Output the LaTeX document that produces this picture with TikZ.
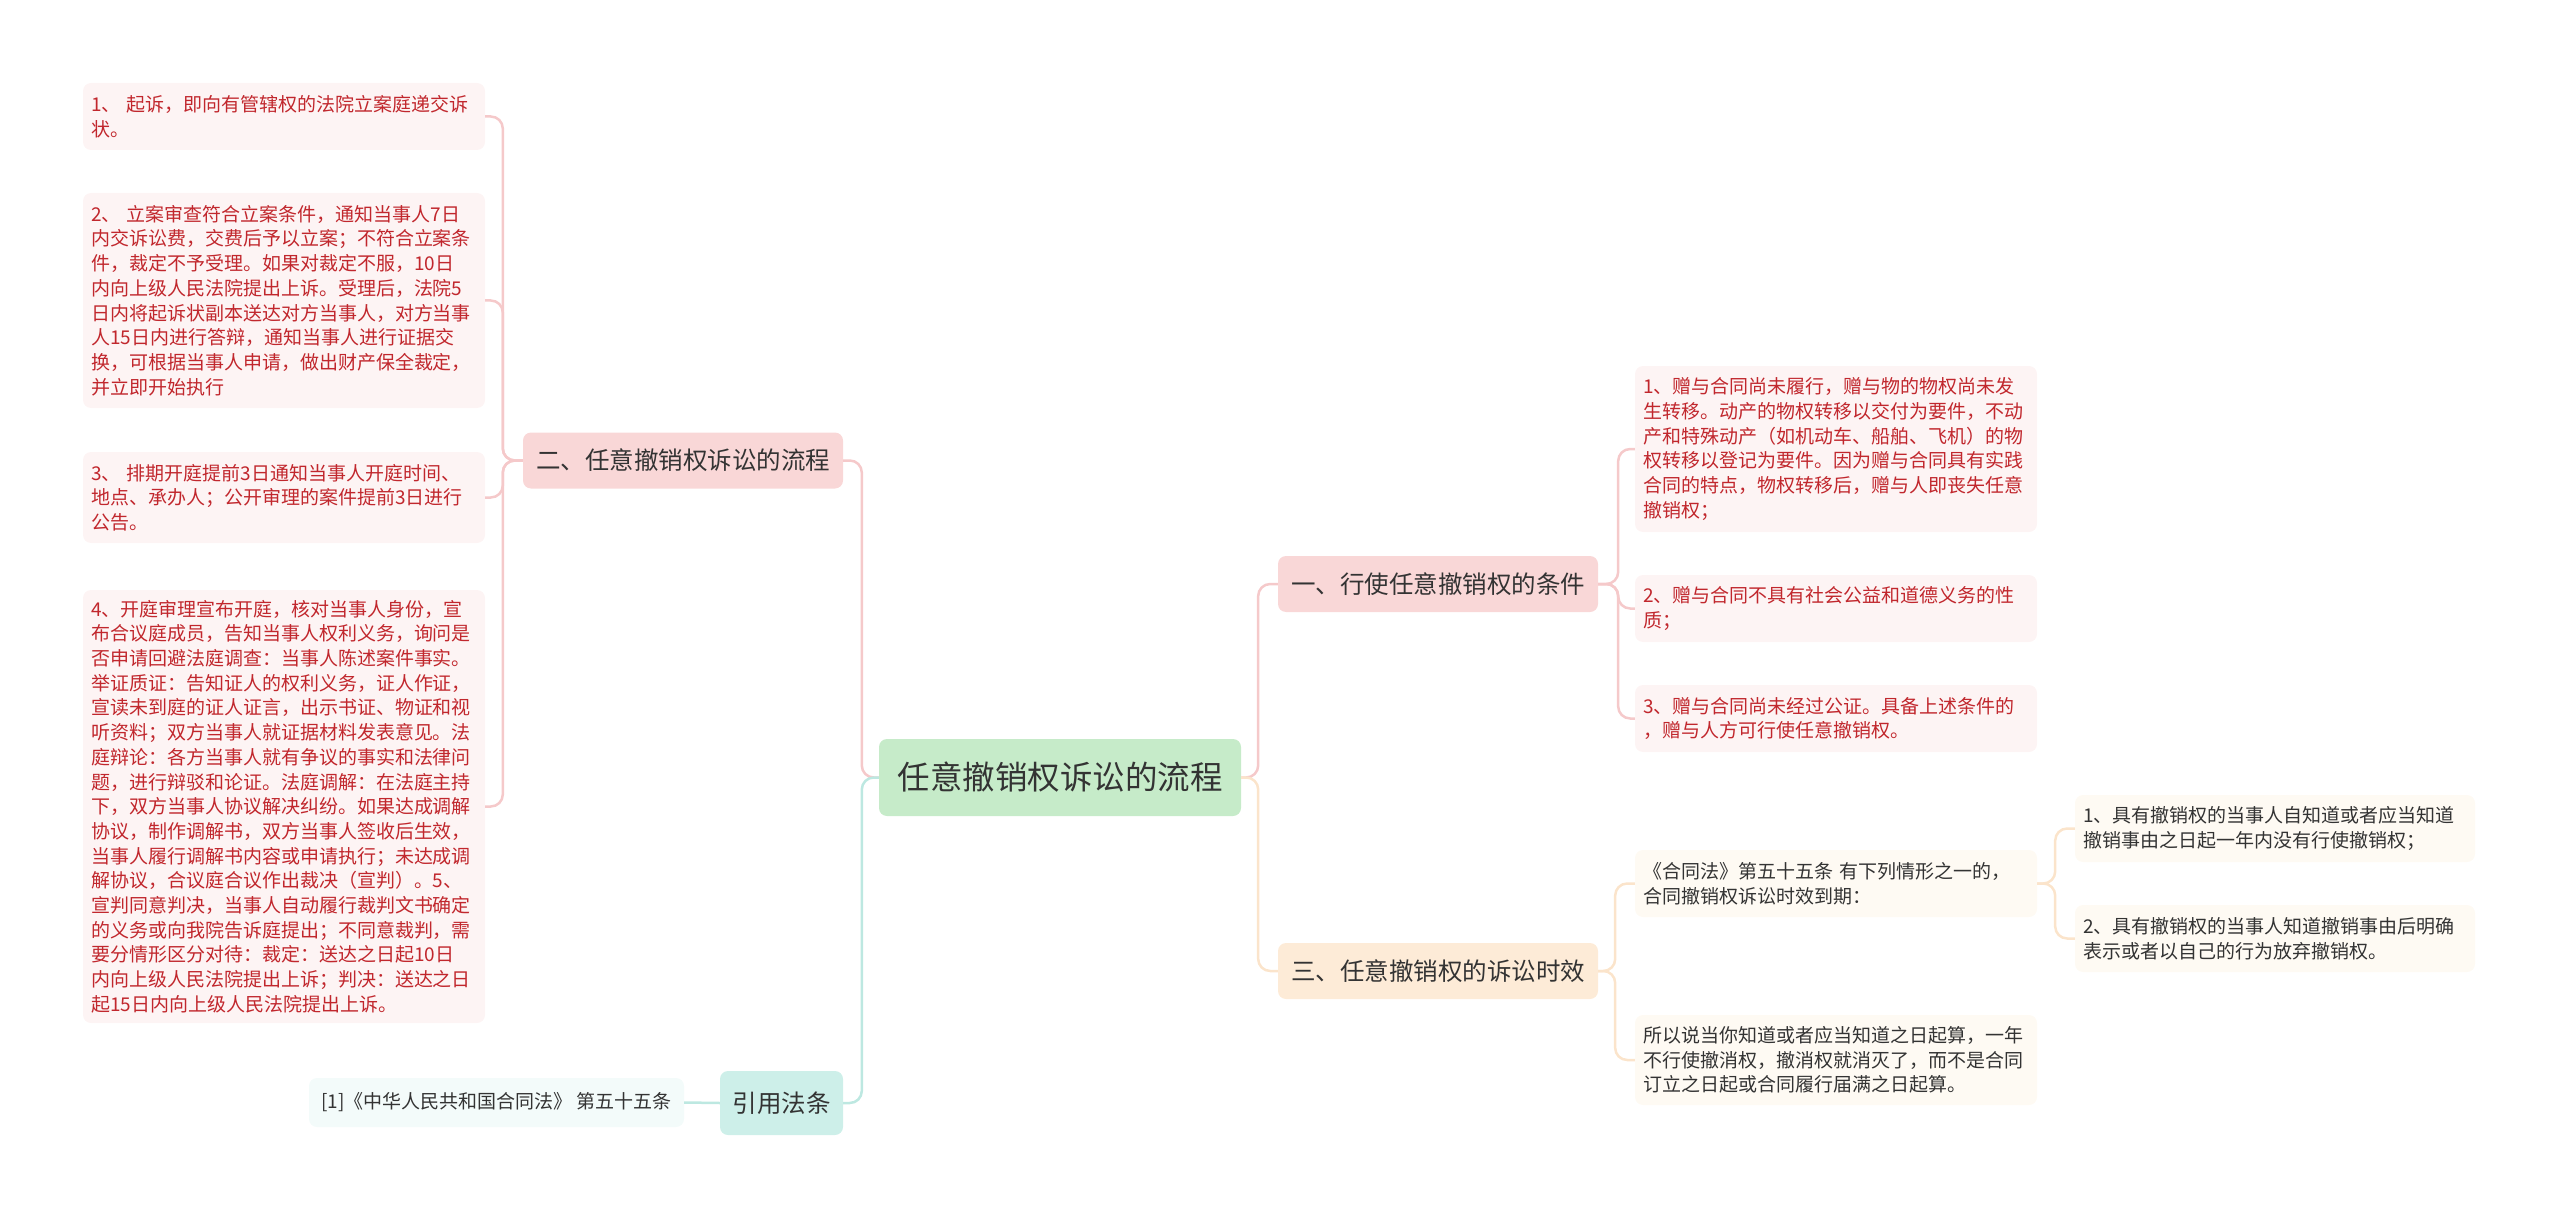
\documentclass[tikz,border=0pt]{standalone}
\usepackage{fontspec}
\setmainfont{Noto Sans CJK SC}
\usetikzlibrary{calc}

\definecolor{rootfill}{HTML}{C6EBC9}
\definecolor{pinkfill}{HTML}{F9D7D7}
\definecolor{peachfill}{HTML}{FDEBD7}
\definecolor{tealfill}{HTML}{CDEFE9}
\definecolor{pinkleaf}{HTML}{FDF4F4}
\definecolor{peachleaf}{HTML}{FEFAF3}
\definecolor{tealleaf}{HTML}{F3FBFA}
\definecolor{pinkline}{HTML}{F5C9CA}
\definecolor{peachline}{HTML}{FBE4CB}
\definecolor{tealline}{HTML}{BDE8E1}
\definecolor{leafred}{HTML}{C1272D}
\definecolor{textgray}{HTML}{333333}

\tikzset{
  box/.style={rounded corners=8pt, inner sep=0pt, align=center, text=textgray},
  rootbox/.style={box, fill=rootfill, minimum width=362, minimum height=77,
    font=\fontsize{32.5}{36}\selectfont},
  branch/.style={box, minimum width=320, minimum height=56,
    font=\fontsize{24.5}{28}\selectfont},
  leaf/.style={rounded corners=8pt, minimum width=402, text width=386,
    inner xsep=8pt, inner ysep=0pt, align=left,
    font=\fontsize{19}{24.7}\selectfont},
  redleaf/.style={leaf, fill=pinkleaf, text=leafred},
  grayleaf/.style={leaf, fill=peachleaf, text=textgray},
  link/.style={line width=2.5pt, rounded corners=12pt}
}

\begin{document}
\begin{tikzpicture}[x=1pt, y=-1pt]
  \useasboundingbox (0,0) rectangle (2560,1206);

  % Root
  \node[rootbox] (root) at (1060,777.5) {任意撤销权诉讼的流程};

  % Main branches
  \node[branch, fill=pinkfill] (flow) at (683,460.5) {二、任意撤销权诉讼的流程};
  \node[branch, fill=pinkfill] (cond) at (1438,584) {一、行使任意撤销权的条件};
  \node[branch, fill=peachfill] (limit) at (1438,971) {三、任意撤销权的诉讼时效};
  \node[box, fill=tealfill, minimum width=123, minimum height=64,
    font=\fontsize{24.5}{28}\selectfont] (cite) at (781.5,1103) {引用法条};

  % Litigation steps (left)
  \node[redleaf, minimum height=67] (s1) at (284,116.5)
    {1、 起诉，即向有管辖权的法院立案庭递交诉\\状。};
  \node[redleaf, minimum height=215] (s2) at (284,300.5)
    {2、 立案审查符合立案条件，通知当事人7日\\
     内交诉讼费，交费后予以立案；不符合立案条\\
     件，裁定不予受理。如果对裁定不服，10日\\
     内向上级人民法院提出上诉。受理后，法院5\\
     日内将起诉状副本送达对方当事人，对方当事\\
     人15日内进行答辩，通知当事人进行证据交\\
     换，可根据当事人申请，做出财产保全裁定，\\
     并立即开始执行};
  \node[redleaf, minimum height=91] (s3) at (284,497.5)
    {3、 排期开庭提前3日通知当事人开庭时间、\\
     地点、承办人；公开审理的案件提前3日进行\\
     公告。};
  \node[redleaf, minimum height=433] (s4) at (284,806.5)
    {4、开庭审理宣布开庭，核对当事人身份，宣\\
     布合议庭成员，告知当事人权利义务，询问是\\
     否申请回避法庭调查：当事人陈述案件事实。\\
     举证质证：告知证人的权利义务，证人作证，\\
     宣读未到庭的证人证言，出示书证、物证和视\\
     听资料；双方当事人就证据材料发表意见。法\\
     庭辩论：各方当事人就有争议的事实和法律问\\
     题，进行辩驳和论证。法庭调解：在法庭主持\\
     下，双方当事人协议解决纠纷。如果达成调解\\
     协议，制作调解书，双方当事人签收后生效，\\
     当事人履行调解书内容或申请执行；未达成调\\
     解协议，合议庭合议作出裁决（宣判）。5、\\
     宣判同意判决，当事人自动履行裁判文书确定\\
     的义务或向我院告诉庭提出；不同意裁判，需\\
     要分情形区分对待：裁定：送达之日起10日\\
     内向上级人民法院提出上诉；判决：送达之日\\
     起15日内向上级人民法院提出上诉。};

  % Cited article
  \node[box, fill=tealleaf, minimum width=375, minimum height=49,
    font=\fontsize{19}{22}\selectfont] (law) at (496.5,1102.5)
    {[1]《中华人民共和国合同法》 第五十五条};

  % Conditions (right, top)
  \node[redleaf, minimum height=166] (c1) at (1836,449)
    {1、赠与合同尚未履行，赠与物的物权尚未发\\
     生转移。动产的物权转移以交付为要件，不动\\
     产和特殊动产（如机动车、船舶、飞机）的物\\
     权转移以登记为要件。因为赠与合同具有实践\\
     合同的特点，物权转移后，赠与人即丧失任意\\
     撤销权；};
  \node[redleaf, minimum height=67] (c2) at (1836,608.5)
    {2、赠与合同不具有社会公益和道德义务的性\\质；};
  \node[redleaf, minimum height=67] (c3) at (1836,718.5)
    {3、赠与合同尚未经过公证。具备上述条件的\\，赠与人方可行使任意撤销权。};

  % Limitation (right, bottom)
  \node[grayleaf, minimum height=67] (d1) at (1836,883.5)
    {《合同法》第五十五条 有下列情形之一的，\\合同撤销权诉讼时效到期：};
  \node[grayleaf, minimum height=90] (d2) at (1836,1060)
    {所以说当你知道或者应当知道之日起算，一年\\
     不行使撤消权，撤消权就消灭了，而不是合同\\
     订立之日起或合同履行届满之日起算。};
  \node[grayleaf, minimum width=400, text width=384, minimum height=67] (e1) at (2275,828.5)
    {1、具有撤销权的当事人自知道或者应当知道\\撤销事由之日起一年内没有行使撤销权；};
  \node[grayleaf, minimum width=400, text width=384, minimum height=67] (e2) at (2275,938.5)
    {2、具有撤销权的当事人知道撤销事由后明确\\表示或者以自己的行为放弃撤销权。};

  % Trunk points
  \coordinate (tl) at ($(root.west)+(-17,0)$);
  \coordinate (tr) at ($(root.east)+(17,0)$);
  \coordinate (tflow) at ($(flow.west)+(-20,0)$);
  \coordinate (tcond) at ($(cond.east)+(20,0)$);
  \coordinate (tlimit) at ($(limit.east)+(17,0)$);
  \coordinate (td) at ($(d1.east)+(18,0)$);

  % Connectors
  \draw[link, pinkline] (root.west) -- (tl) |- (flow.east);
  \draw[link, tealline] (root.west) -- (tl) |- (cite.east);
  \draw[link, pinkline] (root.east) -- (tr) |- (cond.west);
  \draw[link, peachline] (root.east) -- (tr) |- (limit.west);
  \foreach \n in {s1,s2,s3,s4}
    \draw[link, pinkline] (flow.west) -- (tflow) |- (\n.east);
  \draw[link, tealline] (cite.west) -- (law.east);
  \foreach \n in {c1,c2,c3}
    \draw[link, pinkline] (cond.east) -- (tcond) |- (\n.west);
  \foreach \n in {d1,d2}
    \draw[link, peachline] (limit.east) -- (tlimit) |- (\n.west);
  \foreach \n in {e1,e2}
    \draw[link, peachline] (d1.east) -- (td) |- (\n.west);
\end{tikzpicture}
\end{document}
